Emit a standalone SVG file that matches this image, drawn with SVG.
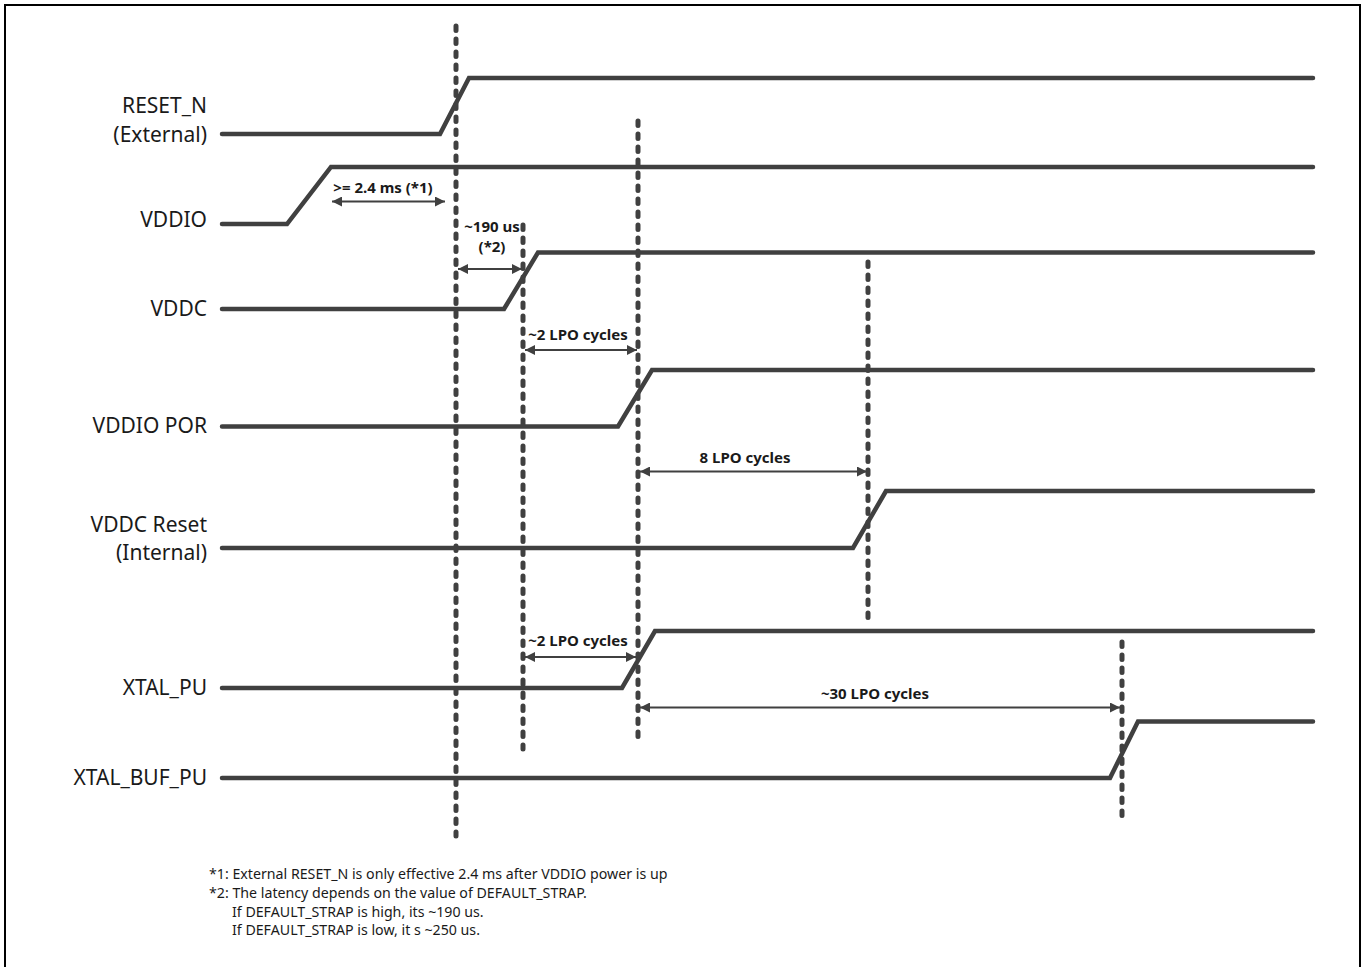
<svg xmlns="http://www.w3.org/2000/svg" width="1366" height="967" viewBox="0 0 1366 967">
<style>
.sig{fill:none;stroke:#404040;stroke-width:4.5;stroke-linecap:round;stroke-linejoin:miter}
.mk{fill:none;stroke:#404040;stroke-width:5;stroke-linecap:round;stroke-dasharray:4.5 8.5}
.dim{fill:none;stroke:#404040;stroke-width:2}
.lbl{font-family:"Noto Sans","Liberation Sans",sans-serif;font-size:21px;fill:#1a1a1a;text-anchor:end}
.bl{font-family:"Noto Sans","Liberation Sans",sans-serif;font-size:15px;font-weight:bold;fill:#1a1a1a;text-anchor:middle}
.fn{font-family:"Noto Sans","Liberation Sans",sans-serif;font-size:14.2px;fill:#1a1a1a}
</style>
<defs>
<marker id="ah" viewBox="0 0 10 10" refX="10" refY="5" markerWidth="11" markerHeight="10" markerUnits="userSpaceOnUse" orient="auto-start-reverse">
<path d="M0,0 L10,5 L0,10 z" fill="#404040"/>
</marker>
</defs>
<rect x="5" y="5" width="1355" height="975" fill="#ffffff" stroke="#000000" stroke-width="2"/>

<g id="reset_n">
<text class="lbl" x="207" y="113">RESET_N</text>
<text class="lbl" x="207" y="142">(External)</text>
<polyline class="sig" points="222,134 440,134 469,78 1313,78"/>
</g>
<g id="vddio">
<text class="lbl" x="207" y="227">VDDIO</text>
<polyline class="sig" points="222,224 287,224 331,167 1313,167"/>
</g>
<g id="vddc">
<text class="lbl" x="207" y="316">VDDC</text>
<polyline class="sig" points="222,309 504,309 538,252.5 1313,252.5"/>
</g>
<g id="vddio_por">
<text class="lbl" x="207" y="433">VDDIO POR</text>
<polyline class="sig" points="222,426.5 618,426.5 652,370 1313,370"/>
</g>
<g id="vddc_reset">
<text class="lbl" x="207" y="532">VDDC Reset</text>
<text class="lbl" x="207" y="560">(Internal)</text>
<polyline class="sig" points="222,548 853,548 886,491 1313,491"/>
</g>
<g id="xtal_pu">
<text class="lbl" x="207" y="695">XTAL_PU</text>
<polyline class="sig" points="222,688 622,688 655,631 1313,631"/>
</g>
<g id="xtal_buf_pu">
<text class="lbl" x="207" y="785">XTAL_BUF_PU</text>
<polyline class="sig" points="222,778 1110,778 1138,721.5 1313,721.5"/>
</g>

<g id="markers">
<line class="mk" x1="456" y1="26" x2="456" y2="836"/>
<line class="mk" x1="523" y1="225" x2="523" y2="749"/>
<line class="mk" x1="638" y1="121" x2="638" y2="744"/>
<line class="mk" x1="868" y1="262" x2="868" y2="624"/>
<line class="mk" x1="1122" y1="642" x2="1122" y2="822"/>
</g>

<g id="connectors">
<line class="dim" x1="332" y1="201.5" x2="445" y2="201.5" marker-start="url(#ah)" marker-end="url(#ah)"/>
<line class="dim" x1="458" y1="269" x2="522" y2="269" marker-start="url(#ah)" marker-end="url(#ah)"/>
<line class="dim" x1="525" y1="350" x2="637" y2="350" marker-start="url(#ah)" marker-end="url(#ah)"/>
<line class="dim" x1="640" y1="471.5" x2="867" y2="471.5" marker-start="url(#ah)" marker-end="url(#ah)"/>
<line class="dim" x1="525" y1="657" x2="636" y2="657" marker-start="url(#ah)" marker-end="url(#ah)"/>
<line class="dim" x1="640" y1="707.5" x2="1120" y2="707.5" marker-start="url(#ah)" marker-end="url(#ah)"/>
</g>

<g id="dim_labels">
<text class="bl" x="383" y="193">&gt;= 2.4 ms (*1)</text>
<text class="bl" x="492" y="232">~190 us</text>
<text class="bl" x="492" y="252">(*2)</text>
<text class="bl" x="578" y="340">~2 LPO cycles</text>
<text class="bl" x="745" y="463">8 LPO cycles</text>
<text class="bl" x="578" y="646">~2 LPO cycles</text>
<text class="bl" x="875" y="699">~30 LPO cycles</text>
</g>

<g id="footnotes">
<text class="fn" x="209" y="879">*1: External RESET_N is only effective 2.4 ms after VDDIO power is up</text>
<text class="fn" x="209" y="898">*2: The latency depends on the value of DEFAULT_STRAP.</text>
<text class="fn" x="232" y="917">If DEFAULT_STRAP is high, its ~190 us.</text>
<text class="fn" x="232" y="935">If DEFAULT_STRAP is low, it s ~250 us.</text>
</g>
</svg>
